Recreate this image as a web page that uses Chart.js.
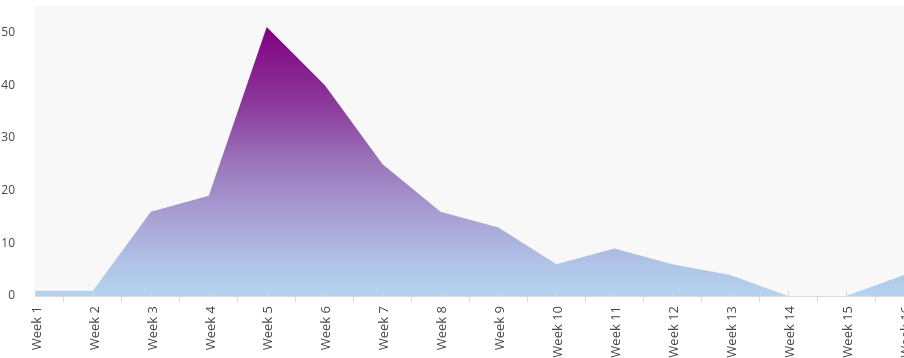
<!DOCTYPE html>
<html>
<head>
<meta charset="utf-8">
<script src="https://cdn.jsdelivr.net/npm/chart.js@4/dist/chart.umd.min.js"></script>
<style>
  html, body { margin: 0; padding: 0; background: #ffffff; overflow: hidden; }
  #wrap { position: relative; width: 904px; height: 358px; }
</style>
</head>
<body>
<div id="wrap"><canvas id="chart"></canvas></div>
<script>
// Weekly counts
const weeks = ['Week 1', 'Week 2', 'Week 3', 'Week 4', 'Week 5', 'Week 6', 'Week 7', 'Week 8',
               'Week 9', 'Week 10', 'Week 11', 'Week 12', 'Week 13', 'Week 14', 'Week 15', 'Week 16'];
const counts = [1, 1, 16, 19, 51, 40, 25, 16, 13, 6, 9, 6, 4, 0, 0, 4];
const yTickValues = [0, 10, 20, 30, 40, 50];

const labelColor = '#474747';
const axisColor = '#d9d9d9';

// Light grey plot background
const plotBackground = {
  id: 'plotBackground',
  beforeDraw(chart) {
    const { ctx, chartArea: a } = chart;
    ctx.save();
    ctx.fillStyle = '#f8f8f8';
    ctx.fillRect(a.left, a.top, a.right - a.left, a.bottom - a.top);
    ctx.restore();
  }
};

// Short upward tick marks at each category position
const categoryTicks = {
  id: 'categoryTicks',
  afterDatasetsDraw(chart) {
    const { ctx, scales: { x } } = chart;
    ctx.save();
    ctx.strokeStyle = '#d4d4d4';
    ctx.lineWidth = 1;
    x.ticks.forEach((t, i) => {
      const px = Math.round(x.getPixelForTick(i)) + 0.5;
      ctx.beginPath();
      ctx.moveTo(px, x.top);
      ctx.lineTo(px, x.top - 5);
      ctx.stroke();
    });
    ctx.restore();
  }
};

function areaGradient(context) {
  const chart = context.chart;
  const { ctx, chartArea, scales } = chart;
  if (!chartArea) return '#b4d3ee';
  const top = scales.y.getPixelForValue(Math.max(...counts));
  const bottom = scales.y.getPixelForValue(0);
  const g = ctx.createLinearGradient(0, top, 0, bottom);
  g.addColorStop(0, '#800080');
  g.addColorStop(0.3, '#8c3c9c');
  g.addColorStop(0.5, '#9a74ba');
  g.addColorStop(0.72, '#a8a4d6');
  g.addColorStop(0.88, '#b0c4e7');
  g.addColorStop(1, '#b4d3ee');
  return g;
}

new Chart(document.getElementById('chart'), {
  type: 'line',
  data: {
    labels: weeks,
    datasets: [{
      data: counts,
      fill: 'origin',
      backgroundColor: areaGradient,
      borderWidth: 0,
      borderColor: 'rgba(0,0,0,0)',
      pointRadius: 0,
      pointHoverRadius: 0,
      tension: 0
    }]
  },
  options: {
    responsive: true,
    maintainAspectRatio: false,
    animation: false,
    events: [],
    layout: { padding: { top: 6, left: 0, right: 0, bottom: 0 } },
    plugins: {
      legend: { display: false },
      tooltip: { enabled: false }
    },
    scales: {
      x: {
        type: 'category',
        offset: false,
        grid: {
          offset: true,
          drawOnChartArea: false,
          drawTicks: true,
          tickLength: 6,
          color: axisColor
        },
        border: { display: true, color: axisColor, width: 1 },
        ticks: {
          autoSkip: false,
          minRotation: 90,
          maxRotation: 90,
          padding: 4,
          labelOffset: 2,
          color: labelColor,
          font: { family: 'Open Sans', size: 13 }
        },
        afterFit(scale) {
          scale.height = 62;
          scale.paddingLeft = 0;
          scale.paddingRight = 0;
        }
      },
      y: {
        min: 0,
        max: 55,
        afterBuildTicks(scale) {
          scale.ticks = yTickValues.map(v => ({ value: v }));
        },
        grid: { display: false },
        border: { display: false },
        ticks: {
          padding: 12,
          color: labelColor,
          font: { family: 'Open Sans', size: 12 }
        },
        afterFit(scale) {
          scale.width = 35;
          scale.paddingTop = 0;
          scale.paddingBottom = 0;
        }
      }
    }
  },
  plugins: [plotBackground, categoryTicks]
});
</script>
</body>
</html>
